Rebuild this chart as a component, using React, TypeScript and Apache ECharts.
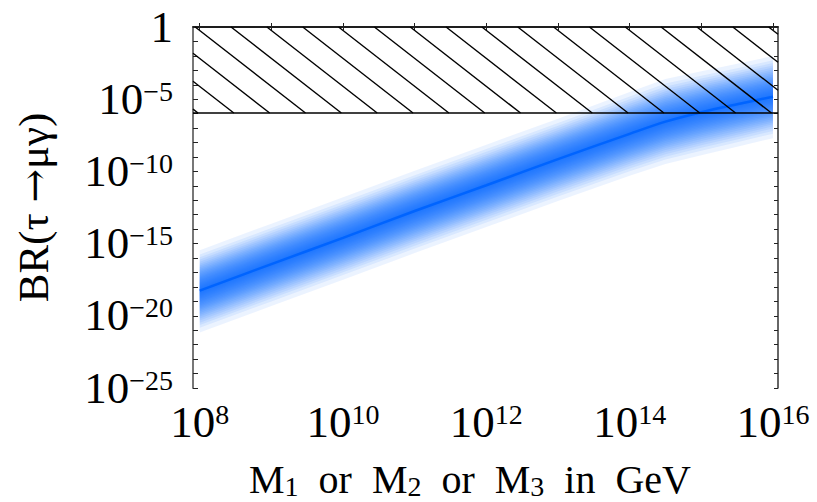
import { useEffect, useRef } from "react";
import * as echarts from "echarts";

// Heavy neutrino mass scale (GeV) and the predicted branching ratio BR(τ → μγ)
const MASS_GEV = [1e8, 1e9, 1e10, 1e11, 1e12, 1e13, 1e14, 3.16e14, 1e15, 3.16e15, 1e16];
const BR_CENTRAL = [5.6e-19, 3.8e-17, 2.5e-15, 1.8e-13, 1.1e-11, 7.1e-10, 4.0e-8, 2.8e-7, 1.26e-6, 4.5e-6, 1.5e-5];
const BR_UPPER = [3.5e-16, 2.4e-14, 1.6e-12, 1.1e-10, 7.1e-9, 4.5e-7, 3.2e-5, 2.5e-4, 8.5e-4, 2.8e-3, 1.0e-2];
const BR_LOWER = [7.1e-22, 4.8e-20, 3.2e-18, 2.2e-16, 1.4e-14, 8.9e-13, 5.0e-11, 3.2e-10, 1.3e-9, 5.0e-9, 2.0e-8];

// Experimental upper bound (excluded region is hatched)
const BR_LIMIT = 1.1e-6;

// Axis ranges and ticks, in decades
const X_MIN = 7.906;
const X_MAX = 16.07;
const X_TICKS = [8, 9, 10, 11, 12, 13, 14, 15, 16];
const X_LABELS = [8, 10, 12, 14, 16];
const Y_MIN = -25;
const Y_MAX = 0;
const Y_LABELS = [-25, -20, -15, -10, -5, 0];

const FONT = "Liberation Serif";
const BLUE = "rgb(0,100,255)";
const BAND_LAYERS = 24;

const lg = (v: number) => Math.log10(v);

export default function App() {
  const ref = useRef<HTMLDivElement>(null);

  useEffect(() => {
    if (!ref.current) return;
    const chart = echarts.init(ref.current, undefined, { renderer: "svg" });

    const xs = MASS_GEV.map(lg);
    const yc = BR_CENTRAL.map(lg);
    const yu = BR_UPPER.map(lg);
    const yl = BR_LOWER.map(lg);

    const powLabel = (v: number) => {
      if (v === 0) return "{b|1}";
      const e = v < 0 ? "\u2212" + Math.abs(v) : String(v);
      return `{b|10}{s|${e}}`;
    };
    const powRich = {
      b: { fontFamily: FONT, fontSize: 45, lineHeight: 44, color: "#000", verticalAlign: "bottom" },
      s: { fontFamily: FONT, fontSize: 28, lineHeight: 20, color: "#000", verticalAlign: "top" },
    };

    // Nested translucent polygons: the density falls off away from the central curve
    const layers = Array.from({ length: BAND_LAYERS }, (_, i) => [1 - Math.pow(i / BAND_LAYERS, 0.7)]);

    const option: any = {
      animation: false,
      backgroundColor: "#fff",
      grid: { left: 193, right: 39, top: 27, bottom: 114, containLabel: false },
      graphic: [
        {
          type: "text",
          x: 470,
          y: 479,
          silent: true,
          style: {
            text: "{m|M}{sub|1}{m|  or  M}{sub|2}{m|  or  M}{sub|3}{m|  in  GeV}",
            align: "center",
            verticalAlign: "middle",
            fill: "#000",
            fontFamily: FONT,
            fontSize: 40,
            rich: {
              m: { fontFamily: FONT, fontSize: 40, lineHeight: 40, verticalAlign: "top", fill: "#000" },
              sub: {
                fontFamily: FONT,
                fontSize: 28,
                lineHeight: 28,
                verticalAlign: "top",
                padding: [13, 0, 0, 0],
                fill: "#000",
              },
            },
          },
        },
      ],
      xAxis: [
        {
          type: "value",
          position: "bottom",
          min: X_MIN,
          max: X_MAX,
          splitLine: { show: false },
          axisLine: { lineStyle: { color: "#777", width: 2 } },
          axisTick: { inside: true, length: 4, customValues: X_TICKS, lineStyle: { color: "#222", width: 1 } },
          axisLabel: {
            customValues: X_LABELS,
            margin: 12,
            formatter: powLabel,
            rich: powRich,
          },
        },
        {
          type: "value",
          position: "top",
          min: X_MIN,
          max: X_MAX,
          splitLine: { show: false },
          axisLine: { lineStyle: { color: "#000", width: 1.5 } },
          axisTick: { inside: true, length: 3, customValues: X_TICKS, lineStyle: { color: "#222", width: 1 } },
          axisLabel: { show: false },
        },
      ],
      yAxis: [
        {
          type: "value",
          position: "left",
          min: Y_MIN,
          max: Y_MAX,
          interval: 1,
          splitLine: { show: false },
          axisLine: { lineStyle: { color: "#777", width: 2 } },
          axisTick: { inside: true, length: 5, lineStyle: { color: "#222", width: 1 } },
          axisLabel: {
            customValues: Y_LABELS,
            margin: 20,
            formatter: powLabel,
            rich: powRich,
          },
          name: "BR(\u03c4 {a|\u2192}\u03bc\u03b3)",
          nameLocation: "middle",
          nameGap: 138,
          nameTextStyle: {
            fontFamily: FONT,
            fontSize: 43,
            color: "#000",
            rich: {
              a: { fontFamily: "DejaVu Serif", fontSize: 40, color: "#000" },
            },
          },
        },
        {
          type: "value",
          position: "right",
          min: Y_MIN,
          max: Y_MAX,
          interval: 1,
          splitLine: { show: false },
          axisLine: { lineStyle: { color: "#333", width: 1.5 } },
          axisTick: { inside: true, length: 4, lineStyle: { color: "#222", width: 1 } },
          axisLabel: { show: false },
        },
      ],
      series: [
        {
          type: "custom",
          name: "spread",
          coordinateSystem: "cartesian2d",
          xAxisIndex: 0,
          yAxisIndex: 0,
          z: 1,
          silent: true,
          data: layers,
          renderItem: (params: any, api: any) => {
            const f = api.value(0);
            const upper = xs.map((x, i) => api.coord([x, yc[i] + (yu[i] - yc[i]) * f]));
            const lower = xs.map((x, i) => api.coord([x, yc[i] + (yl[i] - yc[i]) * f])).reverse();
            return {
              type: "polygon",
              shape: { points: upper.concat(lower) },
              style: { fill: "rgba(0,102,255,0.08)", stroke: "none" },
            };
          },
        },
        {
          type: "line",
          name: "central",
          xAxisIndex: 0,
          yAxisIndex: 0,
          z: 2,
          data: xs.map((x, i) => [x, yc[i]]),
          smooth: 0.3,
          showSymbol: false,
          lineStyle: { color: BLUE, width: 2.5 },
        },
        {
          type: "custom",
          name: "excluded",
          coordinateSystem: "cartesian2d",
          xAxisIndex: 0,
          yAxisIndex: 0,
          z: 3,
          silent: true,
          data: [[X_MIN, Y_MAX]],
          renderItem: (params: any, api: any) => {
            const [left, top] = api.coord([X_MIN, Y_MAX]);
            const [right, bottom] = api.coord([X_MAX, lg(BR_LIMIT)]);
            const h = bottom - top;
            const slope = 0.78;
            const step = 35.84;
            const run = h / slope;
            const children: any[] = [];
            for (let bx = left + 5; bx - run < right; bx += step) {
              // segment from bottom point up-left, clipped to the rectangle
              let x1 = bx;
              let y1 = bottom;
              let x2 = bx - run;
              let y2 = top;
              if (x1 > right) {
                y1 = bottom - (x1 - right) * slope;
                x1 = right;
              }
              if (x2 < left) {
                y2 = bottom - (bx - left) * slope;
                x2 = left;
              }
              children.push({
                type: "line",
                shape: { x1, y1, x2, y2 },
                style: { stroke: "#000", lineWidth: 1.4 },
              });
            }
            children.push({
              type: "line",
              shape: { x1: left, y1: bottom, x2: right, y2: bottom },
              style: { stroke: "#000", lineWidth: 1.6 },
            });
            return { type: "group", children };
          },
        },
      ],
    };

    chart.setOption(option);
    return () => chart.dispose();
  }, []);

  return (
    <div
      ref={ref}
      style={{ position: "fixed", left: 0, top: 0, width: 817, height: 502, background: "#fff" }}
    />
  );
}
